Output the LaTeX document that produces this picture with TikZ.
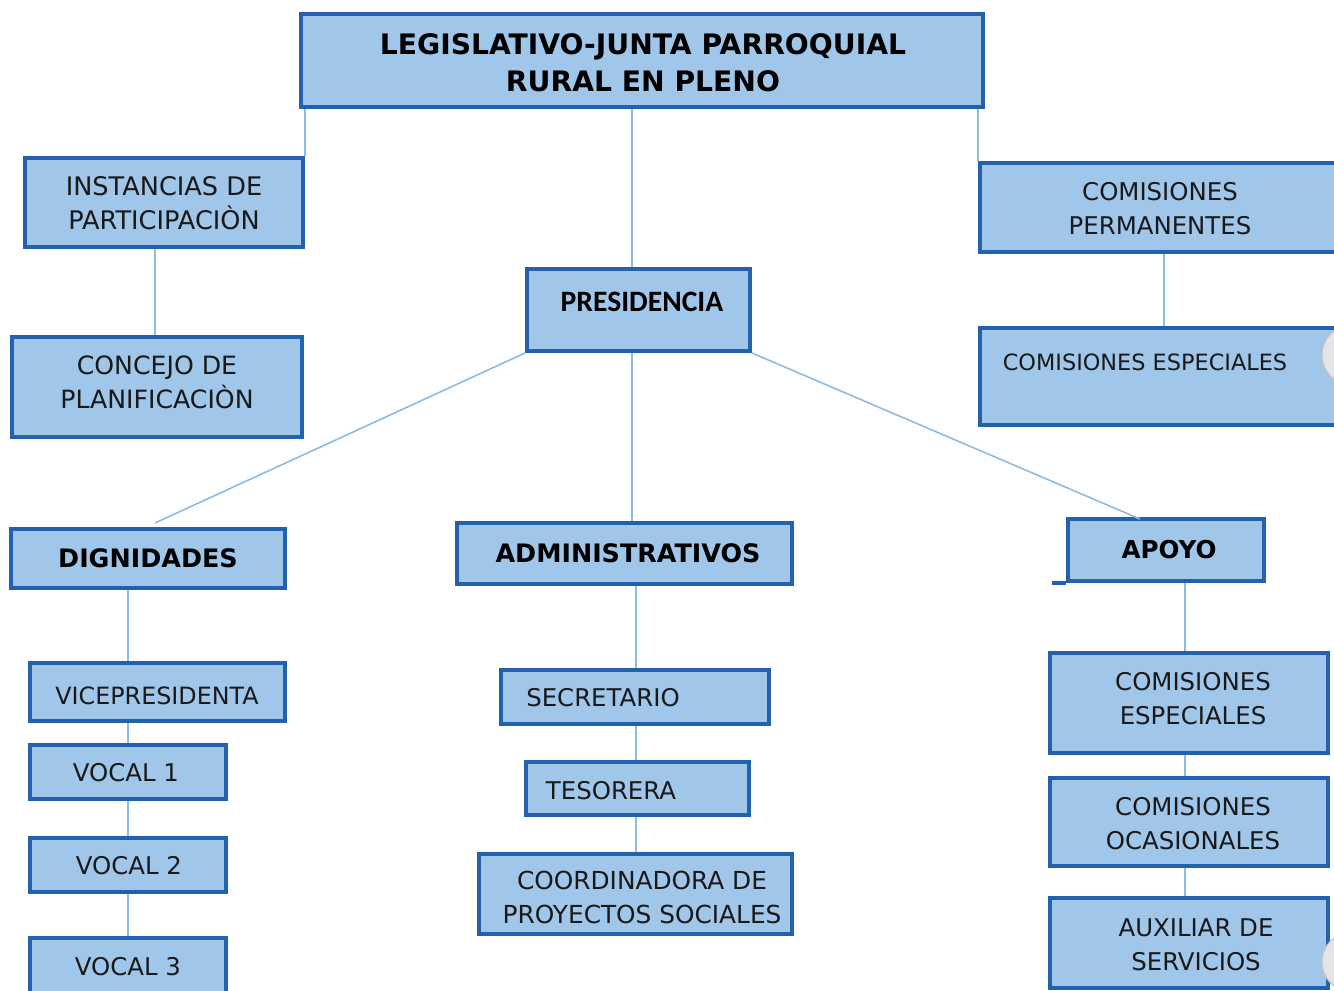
\documentclass[tikz,border=0pt]{standalone}
\usepackage{fontspec}
\setmainfont{DejaVu Sans}
\newfontfamily\narrowfont{Carlito}
\usetikzlibrary{fit}
\definecolor{boxfill}{HTML}{A0C6EA}
\definecolor{boxline}{HTML}{2262AC}
\definecolor{connline}{HTML}{8CBCE6}
\tikzset{
  box/.style={draw=boxline, fill=boxfill, line width=2pt, inner sep=0pt},
  txt/.style={align=center, inner sep=0pt, font=\fontsize{12.2}{17}\selectfont, text=black!90},
  btxt/.style={align=center, inner sep=0pt, font=\bfseries\fontsize{12.7}{18.5}\selectfont, text=black},
  fs/.style={font=\fontsize{#1}{17}\selectfont},
  bfs/.style={font=\bfseries\fontsize{#1}{18.5}\selectfont},
  conn/.style={draw=connline, line width=0.8pt},
  hole/.style={fill=gray!20, draw=gray!45, line width=0.6pt}
}
\begin{document}
\begin{tikzpicture}[x=0.5pt,y=-0.5pt]
\useasboundingbox (0,0) rectangle (1334,991);
\clip (0,0) rectangle (1334,991);
\fill[white] (0,0) rectangle (1334,991);

% boxes
\node[box, fit={(301,14) (983,107)}] (leg) {};
\node[box, fit={(25,158) (303,247)}] (inst) {};
\node[box, fit={(12,337) (302,437)}] (conc) {};
\node[box, fit={(980,163) (1345,252)}] (cperm) {};
\node[box, fit={(980,328) (1345,425)}] (cesp1) {};
\node[box, fit={(527,269) (750,351)}] (pres) {};
\node[box, fit={(11,529) (285,588)}] (dig) {};
\node[box, fit={(457,523) (792,584)}] (adm) {};
\node[box, fit={(1068,519) (1264,581)}] (apoyo) {};
\node[box, fit={(30,663) (285,721)}] (vice) {};
\node[box, fit={(30,745) (226,799)}] (v1) {};
\node[box, fit={(30,838) (226,892)}] (v2) {};
\node[box, fit={(30,938) (226,1000)}] (v3) {};
\node[box, fit={(501,670) (769,724)}] (secr) {};
\node[box, fit={(526,762) (749,815)}] (teso) {};
\node[box, fit={(479,854) (792,934)}] (coord) {};
\node[box, fit={(1050,653) (1328,753)}] (cesp2) {};
\node[box, fit={(1050,778) (1328,866)}] (cocas) {};
\node[box, fit={(1050,898) (1328,988)}] (aux) {};
\draw[boxline, line width=2pt] (apoyo.south west) -- ++(-14,0);

% texts
\node[btxt, bfs=14.1] (leg-t) at (643,63) {LEGISLATIVO-JUNTA PARROQUIAL\\RURAL EN PLENO};
\node[txt, fs=12.8] (inst-t) at (164,203) {INSTANCIAS DE\\PARTICIPACIÒN};
\node[txt, fs=12.6] (conc-t) at (157,382) {CONCEJO DE\\PLANIFICACIÒN};
\node[txt] (cperm-t) at (1160,209) {COMISIONES\\PERMANENTES};
\node[txt, fs=11.2] (cesp1-t) at (1145,362) {COMISIONES ESPECIALES};
\node[btxt, font=\narrowfont\bfseries\fontsize{14.8}{18}\selectfont] (pres-t) at (642,302) {PRESIDENCIA};
\node[btxt] (dig-t) at (148,558) {DIGNIDADES};
\node[btxt] (adm-t) at (628,553) {ADMINISTRATIVOS};
\node[btxt, bfs=12.3] (apoyo-t) at (1169,550) {APOYO};
\node[txt, fs=11.9] (vice-t) at (157,696) {VICEPRESIDENTA};
\node[txt] (v1-t) at (126,773) {VOCAL 1};
\node[txt] (v2-t) at (129,866) {VOCAL 2};
\node[txt] (v3-t) at (128,967) {VOCAL 3};
\node[txt] (secr-t) at (603,698) {SECRETARIO};
\node[txt] (teso-t) at (611,791) {TESORERA};
\node[txt, fs=12.4] (coord-t) at (642,897) {COORDINADORA DE\\PROYECTOS SOCIALES};
\node[txt] (cesp2-t) at (1193,699) {COMISIONES\\ESPECIALES};
\node[txt] (cocas-t) at (1193,824) {COMISIONES\\OCASIONALES};
\node[txt] (aux-t) at (1196,945) {AUXILIAR DE\\SERVICIOS};

% connector anchor columns
\coordinate (cx) at (632,0);
\coordinate (ax) at (636,0);
\coordinate (dx) at (128,0);
\coordinate (px) at (1185,0);
\coordinate (ix) at (155,0);
\coordinate (rx) at (1164,0);
\coordinate (digtop) at (155,523);
\coordinate (apoyotop) at (1140,519);

% connectors
\draw[conn] (inst.north east |- leg.south) -- (inst.north east);
\draw[conn] (cperm.north west |- leg.south) -- (cperm.north west);
\draw[conn] (leg.south -| cx) -- (pres.north -| cx);
\draw[conn] (inst.south -| ix) -- (conc.north -| ix);
\draw[conn] (cperm.south -| rx) -- (cesp1.north -| rx);
\draw[conn] (pres.south west) -- (digtop);
\draw[conn] (pres.south -| cx) -- (adm.north -| cx);
\draw[conn] (pres.south east) -- (apoyotop);
\draw[conn] (dig.south -| dx) -- (vice.north -| dx);
\draw[conn] (vice.south -| dx) -- (v1.north -| dx);
\draw[conn] (v1.south -| dx) -- (v2.north -| dx);
\draw[conn] (v2.south -| dx) -- (v3.north -| dx);
\draw[conn] (adm.south -| ax) -- (secr.north -| ax);
\draw[conn] (secr.south -| ax) -- (teso.north -| ax);
\draw[conn] (teso.south -| ax) -- (coord.north -| ax);
\draw[conn] (apoyo.south -| px) -- (cesp2.north -| px);
\draw[conn] (cesp2.south -| px) -- (cocas.north -| px);
\draw[conn] (cocas.south -| px) -- (aux.north -| px);

% binder holes at right edge
\draw[hole] (1352,355) circle (30);
\draw[hole] (1352,962) circle (30);
\end{tikzpicture}
\end{document}
